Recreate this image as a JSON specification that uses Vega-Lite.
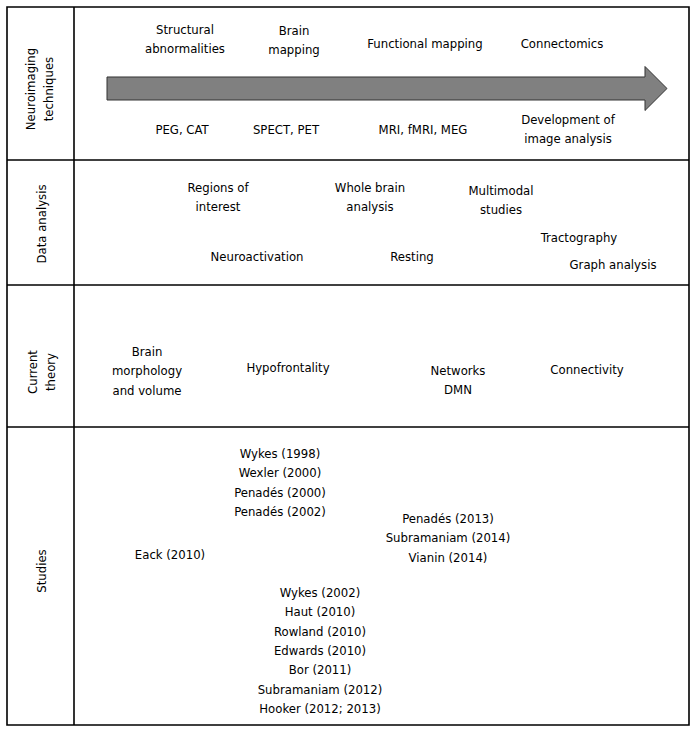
{
  "$schema": "https://vega.github.io/schema/vega-lite/v6.json",
  "width": 697,
  "height": 733,
  "autosize": {"type": "none"},
  "padding": 0,
  "background": "white",
  "config": {"view": {"stroke": null}},
  "datasets": {
    "frame": [{"x": 7, "x2": 689, "y": 7, "y2": 725}],
    "grid": [
      {"x": 7, "x2": 689, "y": 160, "y2": 160},
      {"x": 7, "x2": 689, "y": 285, "y2": 285},
      {"x": 7, "x2": 689, "y": 427, "y2": 427},
      {"x": 74, "x2": 74, "y": 7, "y2": 725}
    ],
    "arrow": [{"x": 387, "y": 88.5}],
    "labels": [
      {"text": "Structural\nabnormalities", "x": 185, "y": 30},
      {"text": "Brain\nmapping", "x": 294, "y": 30.5},
      {"text": "Functional mapping", "x": 425, "y": 44},
      {"text": "Connectomics", "x": 562, "y": 44},
      {"text": "PEG, CAT", "x": 182, "y": 130},
      {"text": "SPECT, PET", "x": 286, "y": 130},
      {"text": "MRI, fMRI, MEG", "x": 423, "y": 130},
      {"text": "Development of\nimage analysis", "x": 568, "y": 120},
      {"text": "Regions of\ninterest", "x": 218, "y": 188},
      {"text": "Whole brain\nanalysis", "x": 370, "y": 188},
      {"text": "Multimodal\nstudies", "x": 501, "y": 191},
      {"text": "Tractography", "x": 579, "y": 238},
      {"text": "Neuroactivation", "x": 257, "y": 257},
      {"text": "Resting", "x": 412, "y": 257},
      {"text": "Graph analysis", "x": 613, "y": 265},
      {"text": "Brain\nmorphology\nand volume", "x": 147, "y": 352},
      {"text": "Hypofrontality", "x": 288, "y": 368},
      {"text": "Networks\nDMN", "x": 458, "y": 371},
      {"text": "Connectivity", "x": 587, "y": 370},
      {"text": "Wykes (1998)\nWexler (2000)\nPenadés (2000)\nPenadés (2002)", "x": 280, "y": 454},
      {"text": "Penadés (2013)\nSubramaniam (2014)\nVianin (2014)", "x": 448, "y": 519},
      {"text": "Eack (2010)", "x": 170, "y": 555},
      {"text": "Wykes (2002)\nHaut (2010)\nRowland (2010)\nEdwards (2010)\nBor (2011)\nSubramaniam (2012)\nHooker (2012; 2013)", "x": 320, "y": 593}
    ],
    "rowLabels": [
      {"text": "Neuroimaging\ntechniques", "x": 31, "y": 89},
      {"text": "Data analysis", "x": 42, "y": 224},
      {"text": "Current\ntheory", "x": 33, "y": 372},
      {"text": "Studies", "x": 42, "y": 571}
    ]
  },
  "encoding": {
    "x": {"field": "x", "type": "quantitative", "axis": null, "scale": {"domain": [0, 697], "nice": false, "zero": false}},
    "y": {"field": "y", "type": "quantitative", "axis": null, "scale": {"domain": [0, 733], "nice": false, "zero": false, "reverse": true}}
  },
  "layer": [
    {
      "data": {"name": "frame"},
      "mark": {"type": "rect", "fill": null, "fillOpacity": 0, "stroke": "black", "strokeWidth": 1.6},
      "encoding": {"x2": {"field": "x2"}, "y2": {"field": "y2"}}
    },
    {
      "data": {"name": "grid"},
      "mark": {"type": "rule", "color": "black", "strokeWidth": 1.6},
      "encoding": {"x2": {"field": "x2"}, "y2": {"field": "y2"}}
    },
    {
      "data": {"name": "arrow"},
      "mark": {
        "type": "point",
        "shape": "M -1 -0.0411 L 0.9214 -0.0411 L 0.9214 -0.0786 L 1 0 L 0.9214 0.0786 L 0.9214 0.0411 L -1 0.0411 Z",
        "size": 313600,
        "filled": true,
        "fill": "#808080",
        "stroke": "#333333",
        "strokeWidth": 1,
        "opacity": 1,
        "fillOpacity": 1
      }
    },
    {
      "data": {"name": "labels"},
      "mark": {"type": "text", "align": "center", "baseline": "middle", "lineBreak": "\n", "lineHeight": 19.3, "font": "DejaVu Sans Condensed, DejaVu Sans", "fontSize": 13, "color": "black"},
      "encoding": {"text": {"field": "text"}}
    },
    {
      "data": {"name": "rowLabels"},
      "mark": {"type": "text", "align": "center", "baseline": "middle", "angle": 270, "lineBreak": "\n", "lineHeight": 17.5, "font": "DejaVu Sans Condensed, DejaVu Sans", "fontSize": 13, "color": "black"},
      "encoding": {"text": {"field": "text"}}
    }
  ]
}
